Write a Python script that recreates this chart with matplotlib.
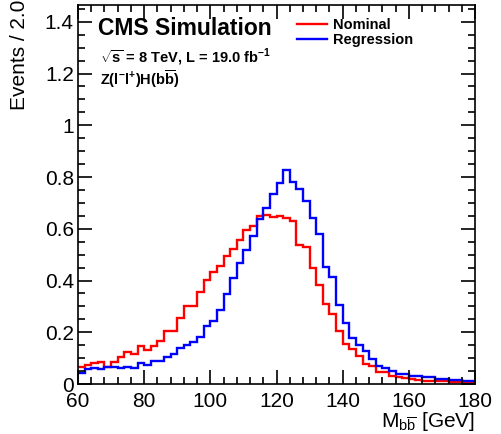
import numpy as np
import matplotlib
matplotlib.use("Agg")
import matplotlib.pyplot as plt
from matplotlib.ticker import MultipleLocator

plt.rcParams['font.family'] = ['Liberation Sans', 'DejaVu Sans']
plt.rcParams['mathtext.fontset'] = 'custom'
plt.rcParams['mathtext.rm'] = 'Liberation Sans'
plt.rcParams['mathtext.bf'] = 'Liberation Sans:bold'

# bin edges: 60-180 GeV, 2 GeV wide
edges = np.arange(60, 182, 2)

nominal = [0.067, 0.075, 0.080, 0.084, 0.067, 0.084, 0.103, 0.123, 0.115, 0.145,
           0.132, 0.145, 0.168, 0.205, 0.205, 0.257, 0.300, 0.302, 0.354, 0.401,
           0.433, 0.457, 0.496, 0.523, 0.556, 0.597, 0.612, 0.649, 0.655, 0.646,
           0.651, 0.640, 0.629, 0.539, 0.530, 0.448, 0.384, 0.310, 0.271, 0.205,
           0.155, 0.136, 0.107, 0.079, 0.068, 0.045, 0.045, 0.030, 0.026, 0.023,
           0.019, 0.017, 0.013, 0.010, 0.010, 0.010, 0.008, 0.008, 0.006, 0.004]

regression = [0.044, 0.059, 0.061, 0.057, 0.065, 0.067, 0.062, 0.066, 0.063, 0.083,
              0.074, 0.087, 0.089, 0.106, 0.116, 0.141, 0.149, 0.161, 0.180, 0.226,
              0.242, 0.287, 0.349, 0.410, 0.468, 0.519, 0.574, 0.636, 0.681, 0.735,
              0.778, 0.827, 0.780, 0.752, 0.707, 0.642, 0.580, 0.451, 0.412, 0.306,
              0.236, 0.178, 0.152, 0.126, 0.097, 0.071, 0.062, 0.049, 0.040, 0.039,
              0.032, 0.032, 0.026, 0.026, 0.019, 0.019, 0.017, 0.014, 0.010, 0.010]

fig = plt.figure(figsize=(5.01, 4.34), dpi=100)
ax = fig.add_axes([78/501, 50/434, 397/501, 379/434])

ax.stairs(nominal, edges, baseline=None, color='#ff0000', linewidth=1.7, label='Nominal')
ax.stairs(regression, edges, baseline=None, color='#0000ff', linewidth=1.7, label='Regression')

ax.set_xlim(60, 180)
ax.set_ylim(0, 1.465)
ax.xaxis.set_major_locator(MultipleLocator(20))
ax.xaxis.set_minor_locator(MultipleLocator(4))
ax.yaxis.set_minor_locator(MultipleLocator(0.05))
ax.set_yticks([0, 0.2, 0.4, 0.6, 0.8, 1.0, 1.2, 1.4])
ax.set_yticklabels(['0', '0.2', '0.4', '0.6', '0.8', '1', '1.2', '1.4'])
ax.tick_params(which='both', direction='in', top=True, right=True, width=1.2, labelsize=15)
ax.tick_params(which='major', length=10)
ax.tick_params(which='minor', length=5)
ax.tick_params(axis='x', pad=5.5)
ax.tick_params(axis='y', pad=3)
for s in ax.spines.values():
    s.set_linewidth(1.2)

fig.text(20/501, 1.0, 'Events / 2.0', rotation=90, ha='center', va='top', fontsize=15)
fig.text(475/501, 1/434, r'M$_{\mathregular{b\overline{b}}}$ [GeV]', ha='right', va='bottom', fontsize=15)

ax.text(0.05, 0.921, 'CMS Simulation', transform=ax.transAxes, fontsize=16.5, fontweight='bold', va='baseline')
ax.text(0.055, 0.847, r'$\mathbf{\sqrt{s}}$ = 8 TeV, L = 19.0 fb$^{\mathbf{-1}}$', transform=ax.transAxes,
        fontsize=10.5, fontweight='bold', va='baseline')
ax.text(0.055, 0.788, r'Z(l$^{\mathbf{-}}$l$^{\mathbf{+}}$)H(b$\mathbf{\overline{b}}$)', transform=ax.transAxes,
        fontsize=10.5, fontweight='bold', va='baseline')

ax.legend(loc='upper left', bbox_to_anchor=(0.552, 0.966), frameon=False, borderpad=0,
          borderaxespad=0, labelspacing=0.05, handlelength=2.05, handletextpad=0.41,
          prop={'weight': 'bold', 'size': 10.5})

fig.savefig('out.png', dpi=100)
